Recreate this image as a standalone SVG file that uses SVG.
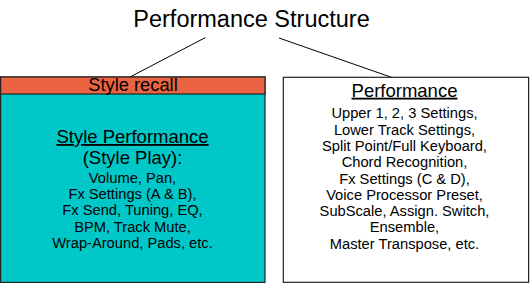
<svg xmlns="http://www.w3.org/2000/svg" width="530" height="284" viewBox="0 0 530 284">
<style>
text{font-family:"Liberation Sans",Arial,sans-serif;fill:#000;text-anchor:middle}
.t{font-size:23.5px}
.h{font-size:18.5px}
.r{font-size:18.3px}
.b{font-size:14.7px}
.u{text-decoration:underline}
.box{stroke:#222;stroke-width:1.2}
</style>
<rect width="530" height="284" fill="#fff"/>
<text class="t" x="251.5" y="27">Performance Structure</text>
<g id="connectors" stroke="#000" stroke-width="1">
<line x1="205.5" y1="37.5" x2="130" y2="77"/>
<line x1="279" y1="38" x2="392" y2="77.5"/>
</g>
<g id="style">
<rect class="box" x="0.6" y="77" width="264.4" height="205.4" fill="#00C8C8"/>
<rect class="box" x="0.6" y="77" width="264.4" height="17" fill="#EB6341"/>
<text class="r" x="133" y="90.7">Style recall</text>
<text class="h u" x="132.5" y="143">Style Performance</text>
<text class="h" x="132.5" y="164">(Style Play):</text>
<text class="b" x="132.5" y="182.7">Volume, Pan,</text>
<text class="b" x="132.5" y="199">Fx Settings (A &amp; B),</text>
<text class="b" x="132.5" y="215.3">Fx Send, Tuning, EQ,</text>
<text class="b" x="132.5" y="231.6">BPM, Track Mute,</text>
<text class="b" x="132.5" y="247.9">Wrap-Around, Pads, etc.</text>
</g>
<g id="performance">
<rect class="box" x="283.3" y="77.3" width="245.3" height="205" fill="#fff"/>
<text class="h u" x="404.5" y="96.7">Performance</text>
<text class="b" x="404.5" y="118.3">Upper 1, 2, 3 Settings,</text>
<text class="b" x="404.5" y="134.6">Lower Track Settings,</text>
<text class="b" x="404.5" y="150.9">Split Point/Full Keyboard,</text>
<text class="b" x="404.5" y="167.2">Chord Recognition,</text>
<text class="b" x="404.5" y="183.5">Fx Settings (C &amp; D),</text>
<text class="b" x="404.5" y="199.8">Voice Processor Preset,</text>
<text class="b" x="404.5" y="216.1">SubScale, Assign. Switch,</text>
<text class="b" x="404.5" y="232.4">Ensemble,</text>
<text class="b" x="404.5" y="248.7">Master Transpose, etc.</text>
</g>
</svg>
